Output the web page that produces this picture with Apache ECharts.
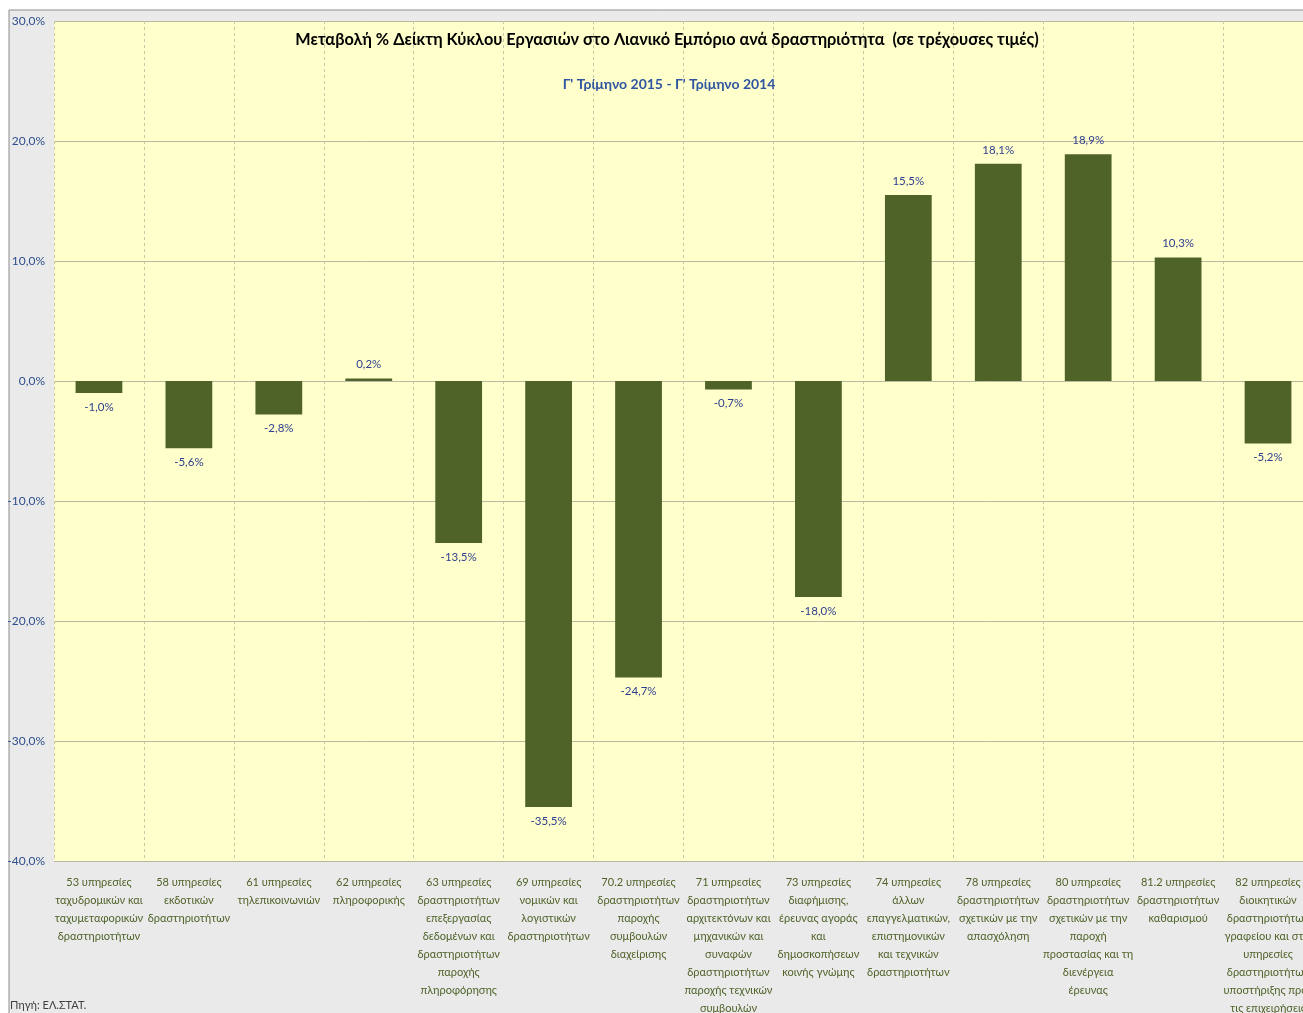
<!DOCTYPE html>
<html>
<head>
<meta charset="utf-8">
<script src="https://cdn.jsdelivr.net/npm/echarts@6/dist/echarts.min.js"></script>
<style>
html,body{margin:0;padding:0;background:#ffffff;}
#chart{width:1303px;height:1013px;}
</style>
</head>
<body>
<div id="chart"></div>
<script>
var categories = [
  "53 υπηρεσίες\nταχυδρομικών και\nταχυμεταφορικών\nδραστηριοτήτων",
  "58 υπηρεσίες\nεκδοτικών\nδραστηριοτήτων",
  "61 υπηρεσίες\nτηλεπικοινωνιών",
  "62 υπηρεσίες\nπληροφορικής",
  "63 υπηρεσίες\nδραστηριοτήτων\nεπεξεργασίας\nδεδομένων και\nδραστηριοτήτων\nπαροχής\nπληροφόρησης",
  "69 υπηρεσίες\nνομικών και\nλογιστικών\nδραστηριοτήτων",
  "70.2 υπηρεσίες\nδραστηριοτήτων\nπαροχής\nσυμβουλών\nδιαχείρισης",
  "71 υπηρεσίες\nδραστηριοτήτων\nαρχιτεκτόνων και\nμηχανικών και\nσυναφών\nδραστηριοτήτων\nπαροχής τεχνικών\nσυμβουλών",
  "73 υπηρεσίες\nδιαφήμισης,\nέρευνας αγοράς\nκαι\nδημοσκοπήσεων\nκοινής γνώμης",
  "74 υπηρεσίες\nάλλων\nεπαγγελματικών,\nεπιστημονικών\nκαι τεχνικών\nδραστηριοτήτων",
  "78 υπηρεσίες\nδραστηριοτήτων\nσχετικών με την\nαπασχόληση",
  "80 υπηρεσίες\nδραστηριοτήτων\nσχετικών με την\nπαροχή\nπροστασίας και τη\nδιενέργεια\nέρευνας",
  "81.2 υπηρεσίες\nδραστηριοτήτων\nκαθαρισμού",
  "82 υπηρεσίες\nδιοικητικών\nδραστηριοτήτων\nγραφείου και στις\nυπηρεσίες\nδραστηριοτήτων\nυποστήριξης προς\nτις επιχειρήσεις"
];
var values = [-1.0, -5.6, -2.8, 0.2, -13.5, -35.5, -24.7, -0.7, -18.0, 15.5, 18.1, 18.9, 10.3, -5.2];
var yTicks = {min: -40, max: 30, interval: 10};

var titleText = "Μεταβολή % Δείκτη Κύκλου Εργασιών στο Λιανικό Εμπόριο ανά δραστηριότητα  (σε τρέχουσες τιμές)";
var subtitleText = "Γ' Τρίμηνο 2015 - Γ' Τρίμηνο 2014";
var sourceText = "Πηγή: ΕΛ.ΣΤΑΤ.";

var FONT = "Lato, 'Noto Sans', sans-serif";
function pct(v){ return v.toFixed(1).replace('.', ',') + '%'; }

var chart = echarts.init(document.getElementById('chart'), null, {renderer: 'canvas'});
var option = {
  backgroundColor: '#ffffff',
  animation: false,
  graphic: [
    {type: 'rect', z: -10, shape: {x: 9, y: 10, width: 1300, height: 1010},
     style: {fill: '#eaeaea', stroke: '#8c8c8c', lineWidth: 1}},
    {type: 'rect', z: -9, shape: {x: 54, y: 21, width: 1270, height: 841},
     style: {fill: '#ffffcc'}},
    {type: 'text', left: 10, top: 1000, style: {text: sourceText, fontFamily: FONT, fontSize: 11, fill: '#404040'}}
  ],
  title: [
    {text: titleText, left: 662, top: 27, textAlign: 'center',
     textStyle: {fontFamily: FONT, fontSize: 16.3, fontWeight: 'bold', color: '#000000'}},
    {text: subtitleText, left: 664, top: 72, textAlign: 'center',
     textStyle: {fontFamily: FONT, fontSize: 14, fontWeight: 'bold', color: '#2f55a0'}}
  ],
  grid: {left: 54, top: 21, width: 1259, height: 840, containLabel: false, outerBoundsMode: 'none'},
  xAxis: {
    type: 'category',
    data: categories,
    position: 'bottom',
    axisLine: {show: false, onZero: false},
    axisTick: {show: false},
    splitLine: {show: true, lineStyle: {color: '#c9c9a6', type: [3, 3], width: 1}},
    axisLabel: {interval: 0, margin: 12, fontFamily: FONT, fontSize: 11, lineHeight: 18,
      color: '#4f6228', align: 'center', verticalAlign: 'top'}
  },
  yAxis: {
    type: 'value',
    min: yTicks.min, max: yTicks.max, interval: yTicks.interval,
    axisLine: {show: false},
    axisTick: {show: false},
    splitLine: {show: true, lineStyle: {color: '#b9b9a0', width: 1}},
    axisLabel: {formatter: function(v){ return pct(v); }, margin: 9, fontFamily: FONT, fontSize: 12,
      color: '#2f4f8f'}
  },
  series: [{
    type: 'bar',
    barWidth: '52%',
    itemStyle: {color: '#4f6228'},
    label: {show: true, fontFamily: FONT, fontSize: 11.5, color: '#2f3f8f', distance: 8,
      formatter: function(p){ return pct(p.value); }},
    data: values.map(function(v){
      return {value: v, label: {position: v < 0 ? 'bottom' : 'top'}};
    })
  }]
};
chart.setOption(option);
</script>
</body>
</html>
